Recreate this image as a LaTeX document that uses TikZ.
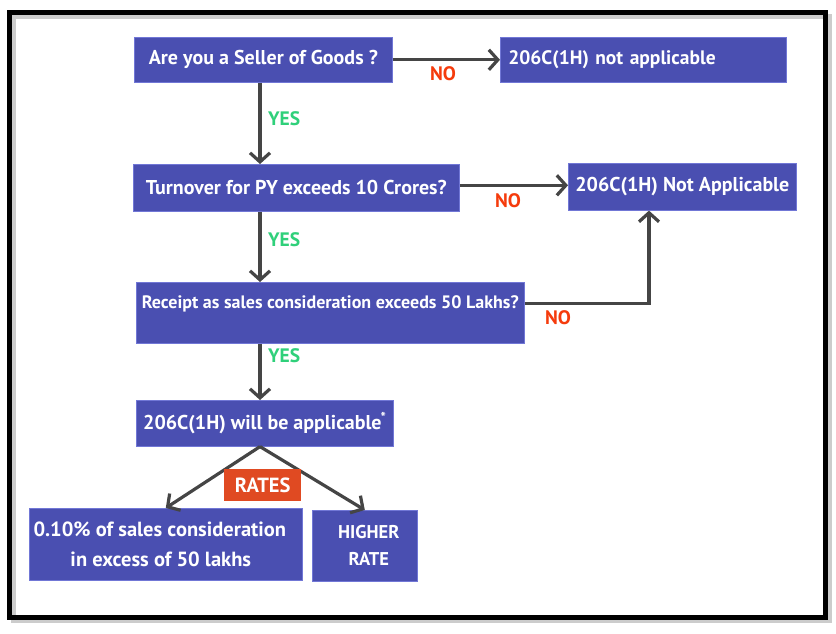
\documentclass[tikz,border=0pt]{standalone}
\usepackage{fontspec}
\setmainfont{PT Sans}
\usetikzlibrary{arrows.meta,calc}
\definecolor{boxblue}{HTML}{4A4FB1}
\definecolor{edgeblue}{HTML}{7177D6}
\definecolor{arrowgrey}{HTML}{454545}
\definecolor{nored}{HTML}{F53B0C}
\definecolor{yesgreen}{HTML}{2FD07A}
\definecolor{ratesred}{HTML}{E04A22}
\begin{document}
\begin{tikzpicture}[x=1pt,y=-1pt,
  box/.style={rectangle, fill=boxblue, draw=edgeblue, line width=0.6pt, text=white,
    font=\bfseries\fontsize{20}{24}\selectfont, inner sep=0pt, anchor=north west, align=center},
  arr/.style={draw=arrowgrey, line width=3.2pt, -{Straight Barb[length=9pt,width=20pt]}},
  nolab/.style={text=nored, font=\bfseries\fontsize{19.5}{22}\selectfont, inner sep=0pt},
  yeslab/.style={text=yesgreen, font=\bfseries\fontsize{19.5}{22}\selectfont, inner sep=0pt, anchor=west},
]
\useasboundingbox (0,0) rectangle (836,633);
\fill[white] (0,0) rectangle (836,633);
% frame with shadow
\draw[gray!40, line width=5pt] (13,16) rectangle (829,620);
\draw[black, line width=5pt] (9.5,12.5) rectangle (825.5,617);

\coordinate (col) at (260,0);
\coordinate (dcol) at (649,0);

\node[box, minimum width=258pt, minimum height=45pt] (A) at (134,37) {Are you a Seller of Goods ?};
\node[box, minimum width=286pt, minimum height=45pt, text width=270pt, inner xsep=8pt, align=left, font=\bfseries\fontsize{19.5}{24}\selectfont] (B) at (500,37) {206C(1H) not applicable};
\node[box, minimum width=326pt, minimum height=47pt] (C) at (133,164) {Turnover for PY exceeds 10 Crores?};
\node[box, minimum width=228pt, minimum height=47pt] (D) at (568,163) {206C(1H) Not Applicable};
\node[box, minimum width=388pt, text height=26.5pt, text depth=34.5pt, font=\bfseries\fontsize{18}{22}\selectfont] (E) at (136,282) {Receipt as sales consideration exceeds 50 Lakhs?};
\node[box, minimum width=257pt, minimum height=46pt] (F) at (136,400) {206C(1H) will be applicable\kern-1pt\textsuperscript{*}};
\node[box, minimum width=273pt, minimum height=72pt, font=\bfseries\fontsize{20.5}{30}\selectfont] (G) at (29,508) {0.10\% of sales consideration\hspace*{12pt}\\in excess of 50 lakhs\hspace*{10pt}};
\node[box, minimum width=105pt, minimum height=71pt, font=\bfseries\fontsize{18.5}{27}\selectfont] (H) at (312,510) {\hspace*{8pt}HIGHER\\\hspace*{8pt}RATE};

\draw[arr] (A.east) -- (B.west);
\draw[arr] (A.south -| col) -- (C.north -| col);
\draw[arr] ([yshift=2.5pt]C.east) -- ([yshift=2.5pt]C.east -| D.west);
\draw[arr] (C.south -| col) -- (E.north -| col);
\draw[arr] ([yshift=9.5pt]E.east) -| (D.south -| dcol);
\draw[arr] (E.south -| col) -- (F.north -| col);
\draw[arr] (F.south -| col) -- (G.north);
\draw[arr] (F.south -| col) -- (H.north);

\node[rectangle, fill=ratesred, text=white, font=\bfseries\fontsize{20.5}{22}\selectfont, inner sep=0pt, minimum width=77pt, minimum height=32pt, anchor=north west] (R) at (224,469) {RATES};

\node[nolab] (no1) at (443,74) {NO};
\node[nolab] (no2) at (508,201) {NO};
\node[nolab] (no3) at (558,318) {NO};
\node[yeslab] (yes1) at (268,119) {YES};
\node[yeslab] (yes2) at (268,240) {YES};
\node[yeslab] (yes3) at (268,356) {YES};
\end{tikzpicture}
\end{document}
